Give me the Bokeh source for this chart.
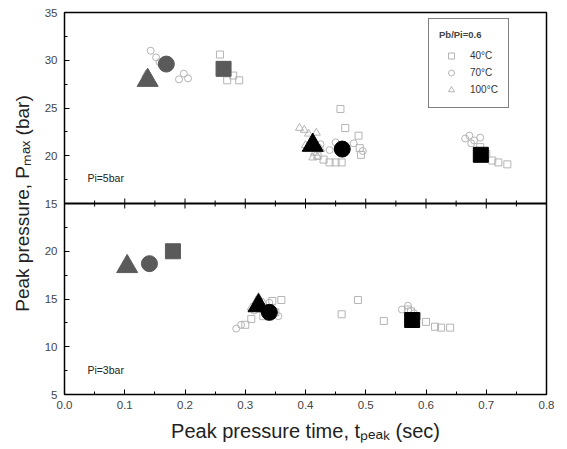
from math import pi
from bokeh.plotting import figure
from bokeh.models import (Range1d, FixedTicker, Span, Label, Legend, LegendItem,
                          ColumnDataSource, Title)
from bokeh.embed import file_html
from bokeh.resources import INLINE

# ---------------- data ----------------
x_ticks = [0.0, 0.1, 0.2, 0.3, 0.4, 0.5, 0.6, 0.7, 0.8]
x_minor = [0.05, 0.15, 0.25, 0.35, 0.45, 0.55, 0.65, 0.75]
x_tick_labels = ["0.0", "0.1", "0.2", "0.3", "0.4", "0.5", "0.6", "0.7", "0.8"]
y_ticks_bottom = [5, 10, 15, 20]          # Pi=3bar panel
y_ticks_top = [15, 20, 25, 30, 35]        # Pi=5bar panel

# Pi = 5 bar (top panel) - individual runs (open symbols)
top_sq_t = [0.258, 0.265, 0.270, 0.280, 0.290, 0.458, 0.466, 0.488, 0.490, 0.492,
            0.440, 0.450, 0.460, 0.690, 0.700, 0.710, 0.720, 0.735, 0.420, 0.430]
top_sq_p = [30.6, 29.5, 27.9, 28.4, 27.9, 24.9, 22.9, 22.1, 20.8, 20.1,
            19.3, 19.3, 19.3, 20.9, 20.2, 19.5, 19.3, 19.1, 20.0, 19.6]
top_ci_t = [0.143, 0.152, 0.158, 0.190, 0.198, 0.205, 0.425, 0.440, 0.450, 0.480,
            0.495, 0.665, 0.672, 0.680, 0.675, 0.690]
top_ci_p = [31.0, 30.3, 29.8, 28.0, 28.6, 28.1, 21.2, 20.6, 21.4, 21.3,
            20.5, 21.8, 22.1, 21.6, 21.3, 21.9]
top_tr_t = [0.390, 0.398, 0.405, 0.410, 0.415, 0.420, 0.400, 0.412, 0.425, 0.418, 0.135]
top_tr_p = [22.9, 22.7, 22.3, 21.6, 20.3, 19.9, 21.1, 19.8, 20.7, 22.4, 28.5]

# Pi = 5 bar mean values (filled symbols): grey group and black group
top_mean_grey_t = [0.264, 0.169, 0.138]   # square, circle, triangle
top_mean_grey_p = [29.1, 29.6, 27.9]
top_mean_black_t = [0.691, 0.461, 0.412]
top_mean_black_p = [20.1, 20.7, 21.1]

# Pi = 3 bar (bottom panel) - individual runs (open symbols)
bot_sq_t = [0.300, 0.310, 0.330, 0.345, 0.350, 0.360, 0.460, 0.487, 0.530, 0.570,
            0.585, 0.600, 0.615, 0.625, 0.640, 0.575]
bot_sq_p = [12.3, 12.9, 13.2, 14.8, 13.6, 14.9, 13.4, 14.9, 12.7, 13.9,
            13.2, 12.6, 12.1, 12.0, 12.0, 13.7]
bot_ci_t = [0.285, 0.293, 0.315, 0.335, 0.340, 0.355, 0.560, 0.570, 0.580]
bot_ci_p = [11.9, 12.3, 13.8, 13.4, 14.6, 13.2, 13.9, 14.3, 13.5]
bot_tr_t = [0.310, 0.318, 0.325, 0.330, 0.322]
bot_tr_p = [14.1, 14.8, 13.9, 14.6, 15.2]

bot_mean_grey_t = [0.180, 0.141, 0.104]
bot_mean_grey_p = [20.0, 18.7, 18.4]
bot_mean_black_t = [0.577, 0.340, 0.322]
bot_mean_black_p = [12.8, 13.6, 14.3]

legend_title = "Pb/Pi=0.6"
legend_labels = ["40\u00b0C", "70\u00b0C", "100\u00b0C"]

# ---------------- figure ----------------
FONT = "Liberation Sans"
OPEN = "#b4b4b4"
GREY = "#5a5a5a"

p = figure(width=567, height=449, output_backend="svg", toolbar_location=None,
           x_range=Range1d(0, 0.8), y_range=Range1d(5, 45),
           min_border_left=64, min_border_right=21, min_border_top=12,
           min_border_bottom=55, background_fill_color="white",
           border_fill_color="white")
p.extra_y_ranges = {"top": Range1d(-5, 35)}
p.grid.visible = False
p.outline_line_color = "black"
p.outline_line_width = 1.5

# x axis
xa = p.xaxis[0]
xa.ticker = FixedTicker(ticks=x_ticks, minor_ticks=x_minor)
xa.major_label_overrides = {t: s for t, s in zip(x_ticks, x_tick_labels)}
# y axis (bottom panel on main range, top panel shifted by the range offset)
ya = p.yaxis[0]
offset = 10
y_all = y_ticks_bottom + [v + offset for v in y_ticks_top]
y_lab = {v: str(v) for v in y_ticks_bottom}
y_lab.update({v + offset: str(v) for v in y_ticks_top})
ya.ticker = FixedTicker(ticks=y_all,
                        minor_ticks=[7.5, 12.5, 17.5, 22.5, 27.5, 32.5, 37.5, 42.5])
ya.major_label_overrides = y_lab
for ax in (xa, ya):
    ax.axis_line_color = None
    ax.major_tick_in = 5
    ax.major_tick_out = 0
    ax.minor_tick_in = 3
    ax.minor_tick_out = 0
    ax.major_tick_line_color = "black"
    ax.minor_tick_line_color = "black"
    ax.major_label_text_font = FONT
    ax.major_label_text_font_size = "11.5px"
    ax.major_label_text_color = "#444444"
xa.major_label_standoff = 6
ya.major_label_standoff = 7

# panel boundary
p.add_layout(Span(location=25, dimension="width", line_color="black", line_width=2))
p.scatter(x=x_ticks[1:-1], y=[25] * (len(x_ticks) - 2), marker="dash", angle=pi / 2,
          size=10, line_color="black", line_width=1)
p.scatter(x=x_minor, y=[25] * len(x_minor), marker="dash", angle=pi / 2,
          size=6, line_color="black", line_width=1)

# ---- top panel (Pi=5bar) ----
r_sq = p.scatter(top_sq_t, top_sq_p, y_range_name="top", marker="square", size=7,
                 line_color=OPEN, fill_color=None, line_width=1)
r_ci = p.scatter(top_ci_t, top_ci_p, y_range_name="top", marker="circle", size=7,
                 line_color=OPEN, fill_color=None, line_width=1)
r_tr = p.scatter(top_tr_t, top_tr_p, y_range_name="top", marker="triangle", size=8,
                 line_color=OPEN, fill_color=None, line_width=1)
mk = ["square", "circle", "triangle"]
sz = [15, 16, 21]
for t, v, col in ((top_mean_grey_t, top_mean_grey_p, GREY),
                  (top_mean_black_t, top_mean_black_p, "black")):
    src = ColumnDataSource(dict(x=t, y=v, m=mk, s=sz))
    p.scatter("x", "y", source=src, y_range_name="top", marker="m", size="s",
              fill_color=col, line_color=col)

# ---- bottom panel (Pi=3bar) ----
p.scatter(bot_sq_t, bot_sq_p, marker="square", size=7, line_color=OPEN,
          fill_color=None, line_width=1)
p.scatter(bot_ci_t, bot_ci_p, marker="circle", size=7, line_color=OPEN,
          fill_color=None, line_width=1)
p.scatter(bot_tr_t, bot_tr_p, marker="triangle", size=8, line_color=OPEN,
          fill_color=None, line_width=1)
for t, v, col in ((bot_mean_grey_t, bot_mean_grey_p, GREY),
                  (bot_mean_black_t, bot_mean_black_p, "black")):
    src = ColumnDataSource(dict(x=t, y=v, m=mk, s=sz))
    p.scatter("x", "y", source=src, marker="m", size="s",
              fill_color=col, line_color=col)

# panel annotations
p.add_layout(Label(x=0.038, y=17.7, y_range_name="top", text="Pi=5bar",
                   text_font=FONT, text_font_size="10.5px", text_baseline="middle",
                   text_color="#222222"))
p.add_layout(Label(x=0.038, y=7.6, text="Pi=3bar", text_font=FONT,
                   text_font_size="10.5px", text_baseline="middle", text_color="#222222"))

# axis titles as side titles
p.add_layout(Title(text="Peak pressure, P\u2098\u2090\u2093 (bar)", align="center",
                   offset=-20, text_font=FONT, text_font_size="19px",
                   text_font_style="normal", text_color="#222222", standoff=17),
             "left")
p.add_layout(Title(text="Peak pressure time, t\u209a\u2091\u2090\u2096 (sec)",
                   align="center", offset=0, text_font=FONT, text_font_size="20px",
                   text_font_style="normal", text_color="#222222", standoff=12),
             "below")

# legend
legend = Legend(items=[LegendItem(label=legend_labels[0], renderers=[r_sq]),
                       LegendItem(label=legend_labels[1], renderers=[r_ci]),
                       LegendItem(label=legend_labels[2], renderers=[r_tr])],
                location=(364, 286), title=legend_title,
                title_text_font=FONT, title_text_font_size="9.5px",
                title_text_font_style="bold", title_standoff=8,
                label_text_font=FONT, label_text_font_size="10px",
                label_text_color="#333333", label_standoff=7,
                label_height=15, glyph_height=15, glyph_width=24, spacing=2,
                padding=10, margin=0, border_line_color="black",
                border_line_width=1, background_fill_alpha=1)
p.add_layout(legend)

open("out.html", "w").write(file_html(p, INLINE))
